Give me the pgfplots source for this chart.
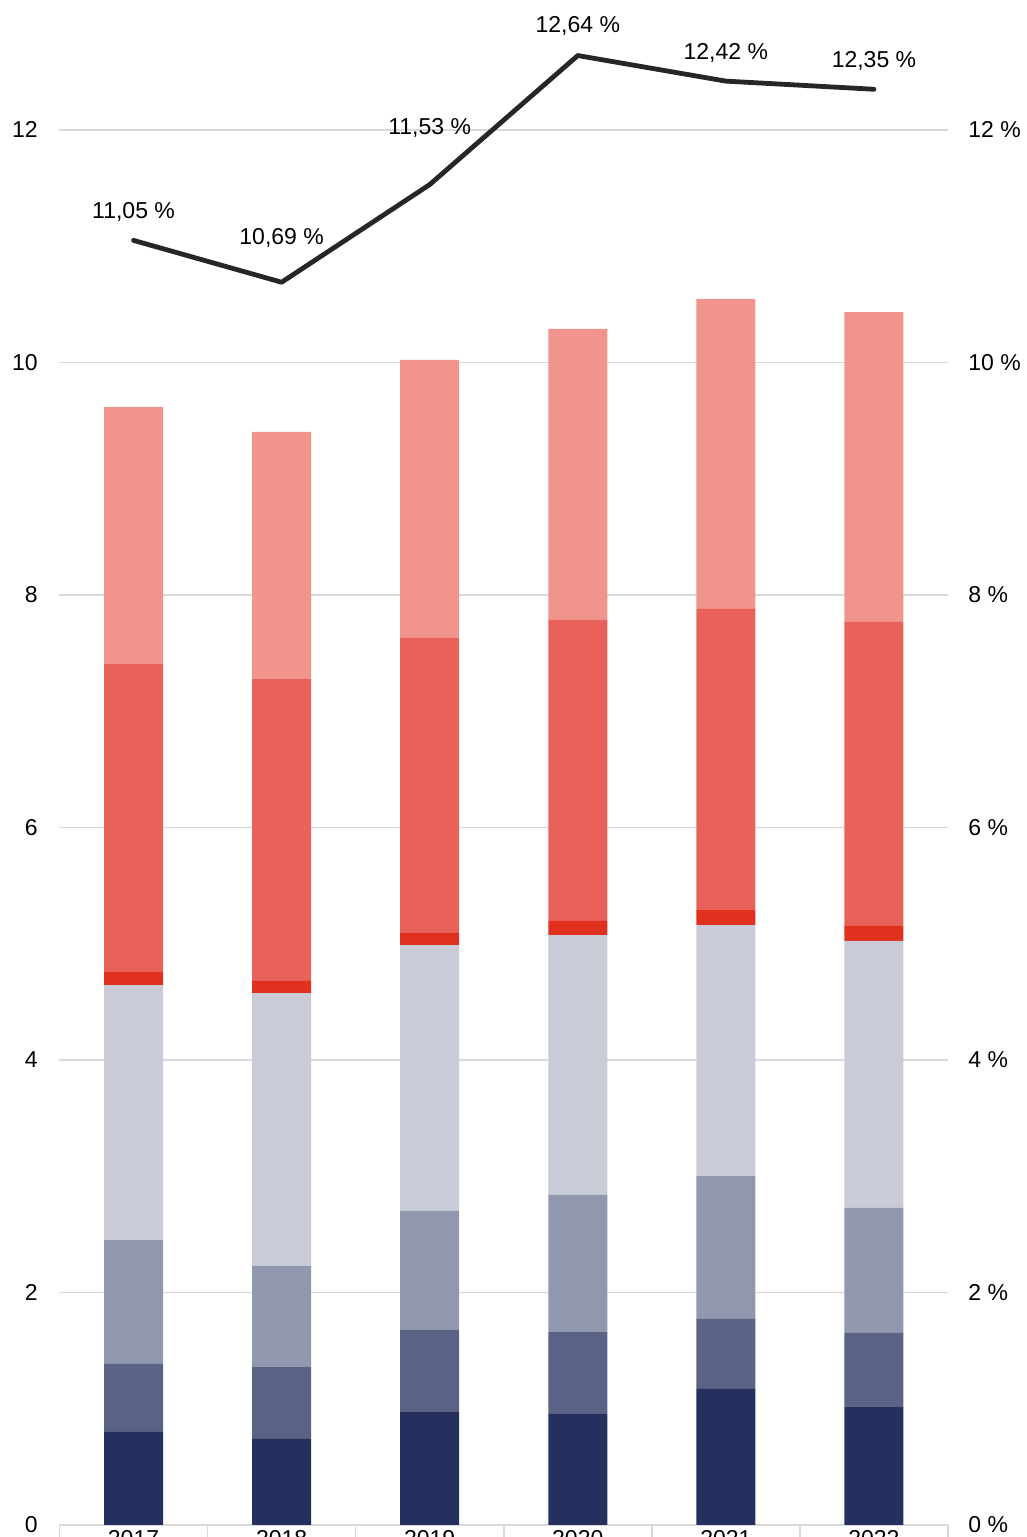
\documentclass[border=0pt]{standalone}
\usepackage{fontspec}
\setmainfont{Liberation Sans}
\usepackage{pgfplots}
\pgfplotsset{compat=1.18}
\usepackage{pgfplotstable}

\definecolor{cA}{HTML}{25305F}
\definecolor{cB}{HTML}{5A6386}
\definecolor{cC}{HTML}{9297B0}
\definecolor{cD}{HTML}{C9CCD7}
\definecolor{cE}{HTML}{E0301E}
\definecolor{cF}{HTML}{E8625A}
\definecolor{cG}{HTML}{F0948C}
\definecolor{gridc}{HTML}{D9D9D9}
\definecolor{linec}{HTML}{262626}

% stacked segments, bottom to top
\pgfplotstableread{
x a     b     c     d     e     f     g
0 0.80  0.585 1.065 2.195 0.112 2.649 2.211
1 0.74  0.619 0.869 2.348 0.104 2.597 2.125
2 0.972 0.705 1.024 2.288 0.104 2.537 2.392
3 0.955 0.705 1.179 2.236 0.121 2.589 2.503
4 1.170 0.602 1.230 2.159 0.129 2.590 2.666
5 1.015 0.637 1.075 2.297 0.129 2.615 2.666
}\bars

% rate line, off = label shift in pt
\pgfplotstableread{
x y     off
0 11.05 14.25
1 10.69 22.25
2 11.53 28.25
3 12.64 14.75
4 12.42 14.25
5 12.35 14.25
}\rate

\pgfplotsset{
  base/.style={
    scale only axis, width=444.25pt, height=762.5pt,
    xmin=-0.5, xmax=5.5, ymin=0, ymax=13.118,
    ytick={0,2,...,12},
    /pgf/number format/assume math mode=true,
    tick label style={font=\fontsize{11.5}{13}\selectfont},
  }
}

\begin{document}
\begin{tikzpicture}
\begin{axis}[base,
  ybar stacked, bar width=29.5pt,
  axis x line*=bottom, axis y line*=left,
  x axis line style={draw=gridc, line width=0.8pt},
  y axis line style={draw=none},
  ymajorgrids, grid style={draw=gridc, line width=0.8pt},
  ytick style={draw=none},
  yticklabel style={anchor=east, inner sep=0pt, xshift=1.25pt},
  xtick={-0.5,0.5,1.5,2.5,3.5,4.5,5.5},
  xticklabels={},
  xtick style={draw=gridc, line width=0.8pt},
  tick align=outside, major tick length=12pt,
  extra x ticks={0,1,2,3,4,5},
  extra x tick labels={2017,2018,2019,2020,2021,2022},
  extra x tick style={major tick length=0pt, tick style={draw=none},
    xticklabel style={anchor=north, inner sep=0pt, yshift=-2.5pt}},
]
\addplot[fill=cA, draw=none] table[x=x,y=a]{\bars};
\addplot[fill=cB, draw=none] table[x=x,y=b]{\bars};
\addplot[fill=cC, draw=none] table[x=x,y=c]{\bars};
\addplot[fill=cD, draw=none] table[x=x,y=d]{\bars};
\addplot[fill=cE, draw=none] table[x=x,y=e]{\bars};
\addplot[fill=cF, draw=none] table[x=x,y=f]{\bars};
\addplot[fill=cG, draw=none] table[x=x,y=g]{\bars};
\coordinate (SW) at (rel axis cs:0,0);
\coordinate (NE) at (rel axis cs:1,1);
\end{axis}

\begin{axis}[base,
  axis x line=none, axis y line*=right,
  y axis line style={draw=none},
  ytick style={draw=none},
  yticklabel={\pgfmathprintnumber{\tick}\ \%},
  yticklabel style={anchor=west, inner sep=0pt, xshift=10pt},
]
\addplot[color=linec, line width=2.4pt, line join=round, line cap=round,
  point meta=y,
  visualization depends on={\thisrow{off} \as \off},
  nodes near coords={\pgfmathprintnumber[fixed,fixed zerofill,precision=2,use comma]{\pgfplotspointmeta}\ \%},
  every node near coord/.append style={anchor=center, yshift=\off pt,
    text=black, font=\fontsize{11.5}{13}\selectfont},
] table[x=x,y=y]{\rate};
\end{axis}

\pgfresetboundingbox
\path ([xshift=-29.75pt,yshift=-6pt]SW) rectangle ([xshift=39.5pt]NE);
\end{tikzpicture}
\end{document}
